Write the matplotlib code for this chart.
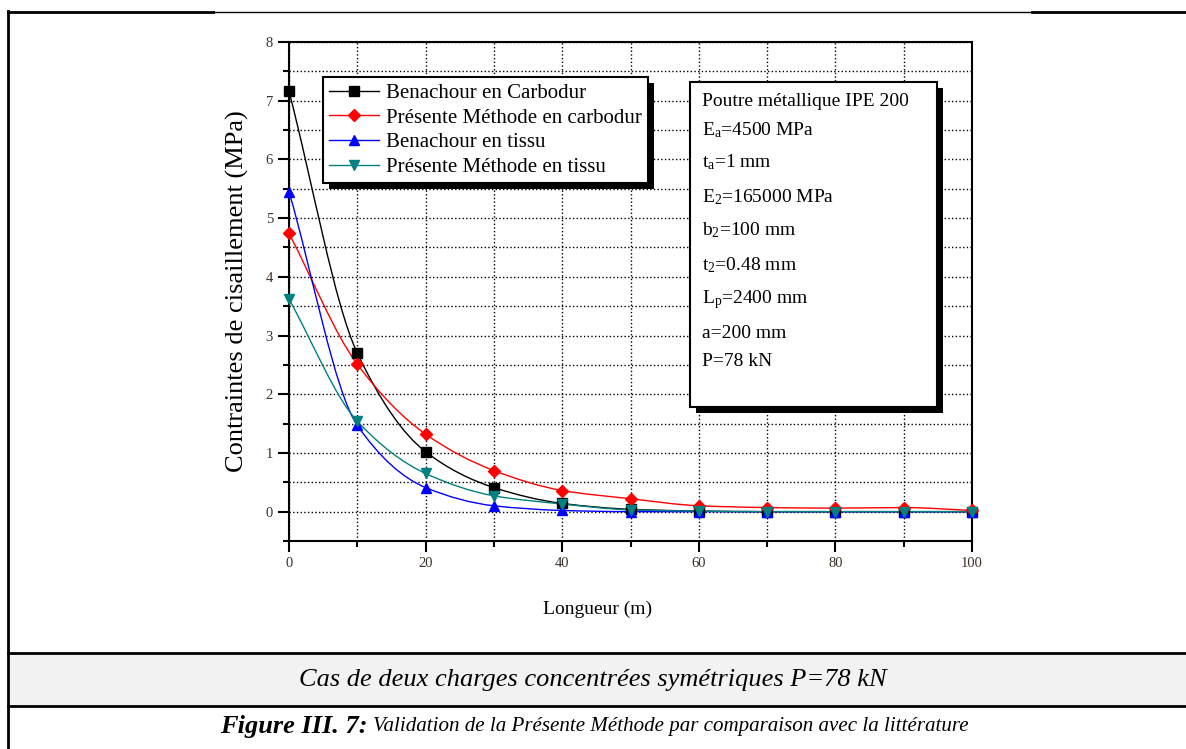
#!/usr/bin/env python3
"""
Shear stress along the bond length: Benachour vs present method
(carbodur and fabric reinforcement), two symmetric point loads P=78 kN.
"""

import numpy as np
import matplotlib
matplotlib.use('Agg')
import matplotlib.pyplot as plt
from matplotlib.path import Path
from matplotlib.patches import PathPatch, Rectangle
from matplotlib.lines import Line2D

# Data
longueur = [0, 10, 20, 30, 40, 50, 60, 70, 80, 90, 100]
benachour_carbodur = [7.16, 2.70, 1.02, 0.41, 0.14, 0.04, 0.01, 0.0, 0.0, 0.0, 0.0]
presente_carbodur = [4.74, 2.51, 1.32, 0.70, 0.36, 0.22, 0.10, 0.07, 0.06, 0.07, 0.02]
benachour_tissu = [5.45, 1.47, 0.41, 0.10, 0.02, 0.0, 0.0, 0.0, 0.0, 0.0, 0.0]
presente_tissu = [3.62, 1.54, 0.65, 0.27, 0.13, 0.03, 0.01, 0.0, 0.0, 0.0, 0.0]

series = [
    ('Benachour en Carbodur', benachour_carbodur, 'black', 's'),
    ('Présente Méthode en carbodur', presente_carbodur, '#ff0000', 'D'),
    ('Benachour en tissu', benachour_tissu, '#0000ff', '^'),
    ('Présente Méthode en tissu', presente_tissu, '#008080', 'v'),
]

params = [
    r'Poutre métallique IPE 200',
    r'E$_{\mathrm{a}}$=4500 MPa',
    r't$_{\mathrm{a}}$=1 mm',
    r'E$_{\mathrm{2}}$=165000 MPa',
    r'b$_{\mathrm{2}}$=100 mm',
    r't$_{\mathrm{2}}$=0.48 mm',
    r'L$_{\mathrm{p}}$=2400 mm',
    r'a=200 mm',
    r'P=78 kN',
]

W, H = 1186, 749
SERIF = 'Liberation Serif'
plt.rcParams['font.family'] = [SERIF, 'DejaVu Serif']
plt.rcParams['mathtext.fontset'] = 'custom'
plt.rcParams['mathtext.rm'] = SERIF
plt.rcParams['mathtext.it'] = SERIF + ':italic'


def fx(x):
    return x / W


def fy(y):
    return 1 - y / H


def smooth_path(x, y):
    """Monotone cubic (Fritsch-Carlson) through the points, as Bezier path."""
    x = np.asarray(x, float)
    y = np.asarray(y, float)
    h = np.diff(x)
    d = np.diff(y) / h
    m = np.zeros_like(y)
    m[0], m[-1] = d[0], d[-1]
    for i in range(1, len(y) - 1):
        if d[i - 1] * d[i] <= 0:
            m[i] = 0.0
        else:
            w1 = 2 * h[i] + h[i - 1]
            w2 = h[i] + 2 * h[i - 1]
            m[i] = (w1 + w2) / (w1 / d[i - 1] + w2 / d[i])
    verts = [(x[0], y[0])]
    codes = [Path.MOVETO]
    for i in range(len(x) - 1):
        verts += [(x[i] + h[i] / 3, y[i] + m[i] * h[i] / 3),
                  (x[i + 1] - h[i] / 3, y[i + 1] - m[i + 1] * h[i] / 3),
                  (x[i + 1], y[i + 1])]
        codes += [Path.CURVE4] * 3
    return Path(verts, codes)


fig = plt.figure(figsize=(W / 100, H / 100), dpi=100)

# page frame / table rows
fig.add_artist(Rectangle((fx(8), fy(706)), fx(W - 8), fy(653) - fy(706),
                         transform=fig.transFigure, facecolor='#f2f2f2',
                         edgecolor='none'))
frame = [((8, 213), (12, 12), 2.0), ((213, 1032), (12, 12), 1.0),
         ((1032, W), (12, 12), 2.0), ((8, 8), (11, H), 2.0),
         ((8, W), (653, 653), 2.0), ((8, W), (706, 706), 2.0)]
for xs, ys, lw in frame:
    fig.add_artist(Line2D([fx(v) for v in xs], [fy(v) for v in ys],
                          transform=fig.transFigure, color='black', lw=lw))

ax = fig.add_axes([fx(289), fy(541), fx(972) - fx(289), fy(42) - fy(541)])

for label, vals, color, marker in series:
    ax.add_patch(PathPatch(smooth_path(longueur, vals), facecolor='none',
                           edgecolor=color, lw=1.0, zorder=3))
    ax.plot(longueur, vals, linestyle='none', marker=marker, color=color,
            markersize=7 if marker != 'D' else 6, zorder=4, clip_on=False)

ax.set_xlim(0, 100)
ax.set_ylim(-0.5, 8)
ax.set_xticks(np.arange(0, 101, 20))
ax.set_xticks(np.arange(10, 100, 20), minor=True)
ax.set_yticks(np.arange(0, 9, 1))
ax.set_yticks(np.arange(-0.5, 8, 1), minor=True)
ax.grid(True, which='both', color='black', linestyle=':', lw=1.0)
ax.set_axisbelow(True)
for sp in ax.spines.values():
    sp.set_linewidth(1.5)
ax.tick_params(which='major', direction='out', length=8, width=1.5,
               labelsize=10.5, labelcolor='#3a3226')
ax.tick_params(which='minor', direction='out', length=4, width=1.5)

ax.set_xlabel('Longueur (m)', fontsize=14)
ax.xaxis.set_label_coords(0.452, -0.12)
ax.set_ylabel('Contraintes de cisaillement (MPa)', fontsize=19)
ax.yaxis.set_label_coords(-0.058, 0.5)

# legend
handles = [Line2D([], [], color=c, marker=mk, lw=1.0,
                  markersize=7 if mk != 'D' else 6)
           for _, _, c, mk in series]
leg = ax.legend(handles, [s[0] for s in series], loc='upper left',
                bbox_to_anchor=(fx(323), fy(77)), bbox_transform=fig.transFigure,
                fancybox=False, framealpha=1, edgecolor='black', fontsize=15,
                handlelength=2.4, handletextpad=0.3, labelspacing=0.25,
                borderpad=0.3, borderaxespad=0)
leg.get_frame().set_linewidth(1.5)
leg.set_zorder(10)

# parameter box
ax.add_artist(Rectangle((fx(696), fy(413)), fx(943) - fx(696), fy(88) - fy(413),
                        transform=fig.transFigure, facecolor='black',
                        edgecolor='none', zorder=8))
ax.add_artist(Rectangle((fx(690), fy(407)), fx(937) - fx(690), fy(82) - fy(407),
                        transform=fig.transFigure, facecolor='white',
                        edgecolor='black', lw=1.5, zorder=9))
line_y = [102, 130, 162, 197, 230, 265, 300, 334, 361]
for txt, yy in zip(params, line_y):
    fig.text(fx(702), fy(yy), txt, fontsize=14, va='center', ha='left',
             zorder=11)

# captions
fig.text(fx(593), fy(680), 'Cas de deux charges concentrées symétriques P=78 kN',
         fontsize=19, style='italic', ha='center', va='center')
fig.text(fx(368), fy(727), 'Figure III. 7:', fontsize=19, style='italic',
         weight='bold', ha='right', va='center')
fig.text(fx(373), fy(727),
         'Validation de la Présente Méthode par comparaison avec la littérature',
         fontsize=15.1, style='italic', ha='left', va='center')

# legend shadow (drawn in the axes, just under the legend)
fig.canvas.draw()
bb = leg.get_window_extent()
ax.add_artist(Rectangle((bb.x0 + 6, bb.y0 - 6), bb.width, bb.height,
                        transform=None, facecolor='black', edgecolor='none',
                        zorder=9, clip_on=False))

fig.savefig('out.png', dpi=100)
